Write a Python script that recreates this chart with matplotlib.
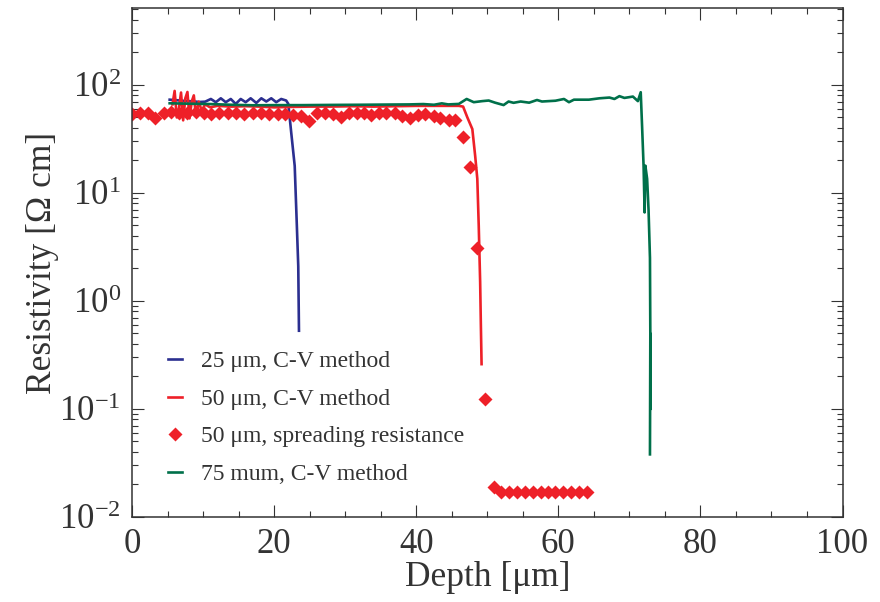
import matplotlib.pyplot as plt
from matplotlib.ticker import MultipleLocator, LogLocator, FuncFormatter, NullFormatter
import numpy as np

# 25 um, C-V method
blue_depth = [5.3, 6.5, 7.5, 8.5, 9.5, 10.3, 11.1, 11.8, 12.5, 13.2, 13.9, 14.6, 15.3, 16.0,
              16.7, 17.5, 18.2, 18.9, 19.6, 20.3, 21.0, 21.7, 22.0, 22.4, 22.9, 23.2, 23.4, 23.5]
blue_rho = [73.0, 72.0, 71.0, 70.5, 69.5, 70.0, 74.1, 69.2, 75.2, 69.2, 74.1, 66.7, 74.1, 69.2,
            75.2, 68.1, 75.2, 70.2, 75.2, 69.2, 74.1, 71.7, 66.7, 36.7, 17.8, 5.0, 2.1, 0.53]

# 50 um, C-V method
red_depth = [5.7, 6.0, 6.3, 6.6, 6.9, 7.2, 7.5, 7.8, 8.1, 8.4, 8.7, 9.0, 9.4, 9.8, 10.3, 11.0,
             12.0, 14.0, 16.0, 18.0, 20.0, 22.0, 25.0, 28.0, 31.0, 34.0, 37.0, 40.0, 43.0, 45.0,
             46.0, 46.6, 47.2, 47.9, 48.3, 48.6, 48.8, 49.0, 49.1, 49.2]
red_rho = [66, 88, 50, 60, 85, 47, 75, 86, 49, 70, 80, 52, 70, 58, 66, 62,
           64, 63, 63.5, 63, 62, 62.5, 63, 63, 63.5, 63, 63.5, 64, 64, 64,
           64, 63, 50, 39, 22, 13.5, 5.0, 1.5, 0.6, 0.26]

# 50 um, spreading resistance
sr_depth = [0.0, 1.1, 2.2, 3.3, 4.5, 5.5, 6.6, 7.8, 9.0, 10.1, 11.1, 12.2, 13.5, 14.6, 15.8,
            17.0, 18.2, 19.3, 20.5, 21.5, 22.7, 23.8, 24.9, 26.1, 27.1, 28.3, 29.4, 30.5, 31.6,
            32.6, 33.7, 34.8, 35.8, 37.0, 38.0, 39.1, 40.3, 41.3, 42.5, 43.4, 44.6, 45.5, 46.6,
            47.6, 48.6, 49.7, 50.9, 52.0, 53.1, 54.2, 55.3, 56.4, 57.5, 58.5, 59.6, 60.7, 61.8,
            62.9, 64.0]
sr_rho = [53.8, 55.0, 55.0, 49.4, 55.0, 56.2, 55.0, 55.0, 56.2, 55.0, 53.8, 55.0, 55.0, 55.0,
          53.8, 55.0, 55.0, 53.8, 53.8, 53.8, 52.7, 51.6, 46.4, 55.0, 55.0, 53.8, 50.6, 55.0,
          55.0, 55.0, 52.7, 55.0, 55.0, 55.0, 51.6, 49.4, 52.7, 53.8, 51.6, 49.4, 47.4, 47.4,
          33.0, 17.5, 3.1, 0.125, 0.019, 0.0172, 0.0170, 0.0171, 0.0170, 0.0171, 0.0171,
          0.0172, 0.0172, 0.0171, 0.0172, 0.0171, 0.0171]

# 75 um, C-V method
green_depth = [5.3, 8.0, 11.0, 14.0, 17.0, 20.0, 24.0, 28.0, 32.0, 36.0, 39.0, 41.0, 42.5,
               43.6, 44.5, 46.0, 47.1, 48.1, 49.3, 50.2, 51.1, 52.3, 53.0, 53.7, 54.7, 55.9,
               57.0, 57.7, 59.6, 60.8, 61.5, 62.2, 64.3, 65.8, 67.2, 67.9, 68.6, 69.3, 70.5,
               71.2, 71.6, 71.8, 72.0, 72.15, 72.25, 72.5, 72.7, 72.9, 73.0, 72.95, 72.9]
green_rho = [67.6, 67.0, 66.5, 65.5, 64.8, 65.0, 65.0, 65.3, 65.5, 65.8, 66.0, 66.5, 65.5,
             67.5, 66.0, 66.7, 74.1, 69.2, 70.8, 71.7, 68.5, 65.1, 70.2, 68.3, 70.2, 68.5,
             72.5, 70.2, 71.4, 74.1, 69.2, 73.0, 73.0, 75.2, 76.4, 74.1, 78.7, 75.8, 78.0,
             70.8, 85.6, 40.0, 17.9, 6.6, 17.9, 13.5, 7.0, 2.5, 0.1, 0.5, 0.038]

labels = ['25 \u03bcm, C-V method', '50 \u03bcm, C-V method',
          '50 \u03bcm, spreading resistance', '75 mum, C-V method']

plt.rcParams['font.family'] = ['Liberation Serif', 'DejaVu Serif']
plt.rcParams['mathtext.fontset'] = 'custom'
plt.rcParams['mathtext.rm'] = 'Liberation Serif'
plt.rcParams['text.color'] = '#333333'
plt.rcParams['axes.labelcolor'] = '#333333'

fig = plt.figure(figsize=(8.8, 6.02), dpi=100)
ax = fig.add_axes([0.15, 0.1412, 0.8074, 0.8447])

ax.plot(blue_depth, blue_rho, color='#2b2f90', lw=1.9, label=labels[0])
ax.plot(red_depth, red_rho, color='#ee2028', lw=1.9, label=labels[1])
ax.plot(sr_depth, sr_rho, ls='none', marker='D', ms=7, color='#ee2028', mec='none', label=labels[2])
ax.plot(green_depth, green_rho, color='#00704a', lw=1.9, label=labels[3])

ax.set_yscale('log')
ax.set_xlim(0, 100)
ax.set_ylim(0.01, 510)

ax.xaxis.set_major_locator(MultipleLocator(20))
ax.xaxis.set_minor_locator(MultipleLocator(5))
ax.yaxis.set_major_locator(LogLocator(base=10, numticks=10))
ax.yaxis.set_minor_locator(LogLocator(base=10, subs=np.arange(2, 10), numticks=20))
ax.yaxis.set_minor_formatter(NullFormatter())
ax.yaxis.set_major_formatter(FuncFormatter(
    lambda v, p: r'$\mathregular{10^{%d}}$' % int(round(np.log10(v))) if v > 0 else ''))

ax.tick_params(which='both', direction='in', top=True, right=True, colors='#333333',
               labelsize=25, width=0.8)
ax.tick_params(which='major', length=8.5, pad=8)
ax.tick_params(which='minor', length=4)
for s in ax.spines.values():
    s.set_color('#333333')
    s.set_linewidth(1.1)

ax.set_xlabel('Depth [\u03bcm]', fontsize=25.5, labelpad=0)
ax.set_ylabel('Resistivity [\u03a9 cm]', fontsize=25.5, labelpad=0)

ax.legend(loc='upper left', bbox_to_anchor=(0.05, 0.327), frameon=False, fontsize=17,
          handlelength=0.6, handletextpad=0.8, labelspacing=0.68, borderpad=0,
          borderaxespad=0)

fig.savefig('out.png', dpi=100)
